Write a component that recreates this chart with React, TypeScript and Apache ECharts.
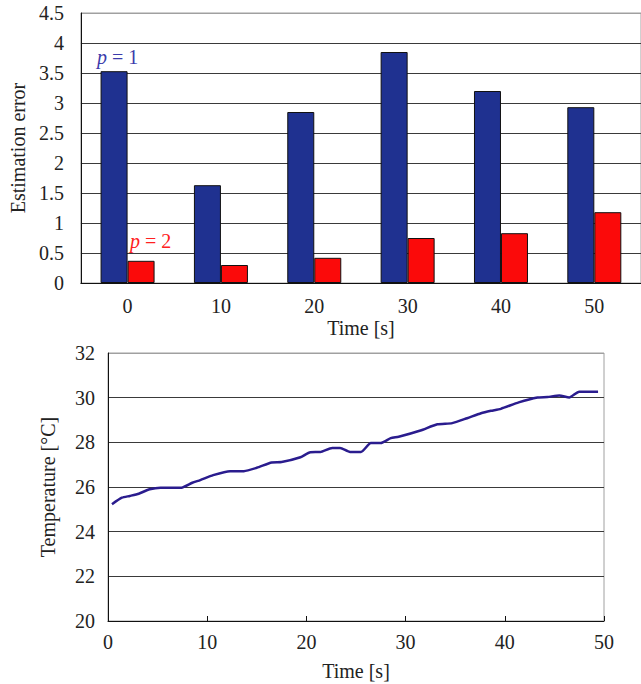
import React, { useEffect, useRef } from "react";
import * as echarts from "echarts";

const errCategories = ["0", "10", "20", "30", "40", "50"];
const p1Errors = [3.53, 1.63, 2.85, 3.85, 3.2, 2.93];
const p2Errors = [0.37, 0.3, 0.42, 0.75, 0.83, 1.18];

const timeSec = [
  0.4, 1.4, 2.2, 3.1, 4.2, 5.3, 7.4, 8.5, 9.3, 10.6, 12.3, 13.7, 15.0, 16.5,
  17.5, 19.4, 20.4, 21.4, 22.6, 23.4, 24.4, 25.5, 26.5, 27.5, 28.5, 29.3, 31.5,
  33.2, 34.7, 36.2, 37.6, 38.6, 39.6, 41.4, 43.3, 44.3, 45.5, 46.5, 47.5, 49.4,
];
const temperature = [
  25.23, 25.52, 25.6, 25.7, 25.9, 25.97, 25.97, 26.19, 26.31, 26.53, 26.71,
  26.71, 26.86, 27.1, 27.12, 27.33, 27.56, 27.57, 27.75, 27.75, 27.57, 27.57,
  27.97, 27.97, 28.19, 28.25, 28.53, 28.81, 28.86, 29.08, 29.3, 29.41, 29.5,
  29.79, 30.01, 30.03, 30.1, 30.01, 30.27, 30.27,
];

const FONT = "'Liberation Serif', 'Times New Roman', serif";
const FS = 20;

export default function App() {
  const ref = useRef<HTMLDivElement>(null);
  useEffect(() => {
    if (!ref.current) return;
    const chart = echarts.init(ref.current, undefined, { renderer: "svg" });
    const labelStyle = { fontFamily: FONT, fontSize: FS, color: "#222" };
    const gridLineColors = (n: number) => {
      const arr: string[] = [];
      for (let i = 0; i < n; i++) arr.push(i === n - 1 ? "#a0a0a0" : "#3a3a3a");
      return arr;
    };
    chart.setOption({
      animation: false,
      backgroundColor: "#ffffff",
      grid: [
        { left: 77, top: 13, width: 564, height: 270, show: true, borderColor: "#a0a0a0", borderWidth: 1 },
        { left: 108, top: 353, width: 496, height: 268, show: true, borderColor: "#a0a0a0", borderWidth: 1 },
      ],
      xAxis: [
        {
          type: "category",
          gridIndex: 0,
          data: errCategories,
          axisLine: { lineStyle: { color: "#111", width: 1 } },
          axisTick: { show: false },
          axisLabel: { ...labelStyle, margin: 13 },
          name: "Time [s]",
          nameLocation: "middle",
          nameGap: 35,
          nameTextStyle: labelStyle,
        },
        {
          type: "value",
          gridIndex: 1,
          min: 0,
          max: 50,
          interval: 10,
          axisLine: { lineStyle: { color: "#111", width: 1 } },
          axisTick: { show: true, inside: true, length: 5, lineStyle: { color: "#111" } },
          splitLine: { show: false },
          axisLabel: { ...labelStyle, margin: 11 },
          name: "Time [s]",
          nameLocation: "middle",
          nameGap: 40,
          nameTextStyle: labelStyle,
        },
      ],
      yAxis: [
        {
          type: "value",
          gridIndex: 0,
          min: 0,
          max: 4.5,
          interval: 0.5,
          axisLine: { show: true, lineStyle: { color: "#111", width: 1 } },
          axisTick: { show: false },
          splitLine: { show: true, lineStyle: { color: gridLineColors(10), width: 1 } },
          axisLabel: { ...labelStyle, margin: 17, padding: [9, 0, 0, 0] },
          name: "Estimation error",
          nameLocation: "middle",
          nameGap: 50,
          nameTextStyle: labelStyle,
        },
        {
          type: "value",
          gridIndex: 1,
          min: 20,
          max: 32,
          interval: 2,
          axisLine: { show: true, lineStyle: { color: "#111", width: 1 } },
          axisTick: { show: false },
          splitLine: { show: true, lineStyle: { color: gridLineColors(7), width: 1 } },
          axisLabel: { ...labelStyle, margin: 13, padding: [10, 0, 0, 0] },
          name: "Temperature [°C]",
          nameLocation: "middle",
          nameGap: 50,
          nameTextStyle: labelStyle,
        },
      ],
      series: [
        {
          name: "p = 1",
          type: "bar",
          xAxisIndex: 0,
          yAxisIndex: 0,
          data: p1Errors,
          barWidth: 27,
          barGap: "0%",
          itemStyle: { color: "#1f3190", borderColor: "#111", borderWidth: 1 },
        },
        {
          name: "p = 2",
          type: "bar",
          xAxisIndex: 0,
          yAxisIndex: 0,
          data: p2Errors,
          barWidth: 27,
          barGap: "0%",
          itemStyle: { color: "#fb0a0a", borderColor: "#111", borderWidth: 1 },
        },
        {
          name: "Temperature",
          type: "line",
          xAxisIndex: 1,
          yAxisIndex: 1,
          data: timeSec.map((t, i) => [t, temperature[i]]),
          showSymbol: false,
          smooth: 0.2,
          lineStyle: { color: "#2a1c8e", width: 2.5 },
        },
      ],
      graphic: [
        {
          type: "text",
          left: 97,
          top: 47,
          style: {
            text: "{i|p} = 1",
            fontFamily: FONT,
            fontSize: FS,
            fill: "#3b3bab",
            rich: { i: { fontStyle: "italic", fontFamily: FONT, fontSize: FS, fill: "#3b3bab" } },
          },
        },
        {
          type: "text",
          left: 130,
          top: 231,
          style: {
            text: "{i|p} = 2",
            fontFamily: FONT,
            fontSize: FS,
            fill: "#ff2020",
            rich: { i: { fontStyle: "italic", fontFamily: FONT, fontSize: FS, fill: "#ff2020" } },
          },
        },
      ],
    });
    return () => chart.dispose();
  }, []);
  return (
    <div
      ref={ref}
      style={{ position: "fixed", left: 0, top: 0, width: 641, height: 684, background: "#fff" }}
    />
  );
}
